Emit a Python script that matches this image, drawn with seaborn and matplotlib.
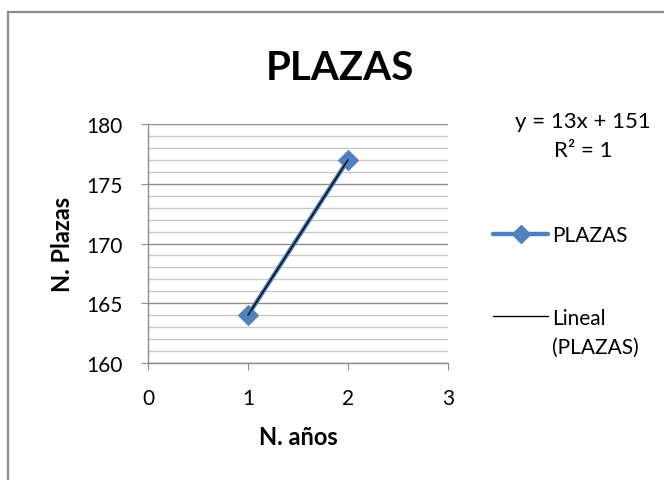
import numpy as np
import pandas as pd
import matplotlib
matplotlib.use('Agg')
import matplotlib.pyplot as plt
import seaborn as sns
from matplotlib.lines import Line2D
from matplotlib.patches import Rectangle
from matplotlib.ticker import MultipleLocator

anos = [1, 2]
plazas = [164, 177]
serie = 'PLAZAS'

sns.set_style('white')
plt.rcParams['font.family'] = ['Lato', 'DejaVu Sans']
plt.rcParams['text.color'] = 'black'
plt.rcParams['axes.labelcolor'] = 'black'

df = pd.DataFrame({'anos': anos, 'plazas': plazas})

fig = plt.figure(figsize=(6.64, 4.81), dpi=100)
ax = fig.add_axes([0.2229, 0.2432, 0.4518, 0.4969])

blue = '#4F81BD'
sns.lineplot(data=df, x='anos', y='plazas', ax=ax, color=blue, linewidth=3.2,
             marker='D', markersize=10, markeredgecolor=blue, zorder=3)

# linear trendline
m, b = np.polyfit(anos, plazas, 1)
xs = np.array(anos, dtype=float)
pred = m * xs + b
ax.plot(xs, pred, color='black', linewidth=1, zorder=4)
r2 = 1 - np.sum((np.array(plazas) - pred) ** 2) / np.sum((np.array(plazas) - np.mean(plazas)) ** 2)

ax.set_xlim(0, 3)
ax.set_ylim(160, 180)
ax.xaxis.set_major_locator(MultipleLocator(1))
ax.yaxis.set_major_locator(MultipleLocator(5))
ax.yaxis.set_minor_locator(MultipleLocator(1))
ax.grid(which='major', axis='y', color='#8c8c8c', linewidth=1)
ax.grid(which='minor', axis='y', color='#c8c8c8', linewidth=1)
ax.set_axisbelow(True)
for s in ['top', 'right']:
    ax.spines[s].set_visible(False)
for s in ['left', 'bottom']:
    ax.spines[s].set_color('#8c8c8c')
    ax.spines[s].set_linewidth(1)
ax.tick_params(axis='y', which='major', left=True, length=5, color='#8c8c8c',
               labelcolor='black', labelsize=15, pad=13)
ax.tick_params(axis='y', which='minor', left=False)
ax.tick_params(axis='x', which='major', bottom=True, length=5, color='#8c8c8c',
               labelcolor='black', labelsize=15, pad=13)

ax.set_xlabel('N. años', fontsize=17, fontweight='bold', labelpad=12)
ax.set_ylabel('N. Plazas', fontsize=17, fontweight='bold', labelpad=9)

fig.text(0.512, 0.858, serie, fontsize=29, fontweight='bold', ha='center', va='center')

fig.text(0.878, 0.716, f'y = {m:.0f}x + {b:.0f}\nR² = {r2:.0f}', fontsize=16,
         ha='center', va='center', linespacing=1.6)

handles = [Line2D([], [], color=blue, linewidth=3.2, marker='D', markersize=9),
           Line2D([], [], color='black', linewidth=1)]
leg = fig.legend(handles, [serie, 'Lineal'], loc='upper left',
                 bbox_to_anchor=(0.7425, 0.530), frameon=False, fontsize=15,
                 handlelength=2.65, handletextpad=0.2, labelspacing=3.0,
                 borderpad=0, borderaxespad=0)

# second line of the trendline label, under "Lineal"
fig.canvas.draw()
bb = leg.texts[1].get_window_extent().transformed(fig.transFigure.inverted())
fig.text(bb.x0, bb.y0 - 0.02, f'({serie})', fontsize=15, ha='left', va='top')

# chart border
fig.patches.append(Rectangle((0.012, -0.1), 1.1, 1.073, transform=fig.transFigure,
                             fill=False, edgecolor='#8a8a8a', linewidth=1.6))

fig.savefig('out.png', dpi=100)
